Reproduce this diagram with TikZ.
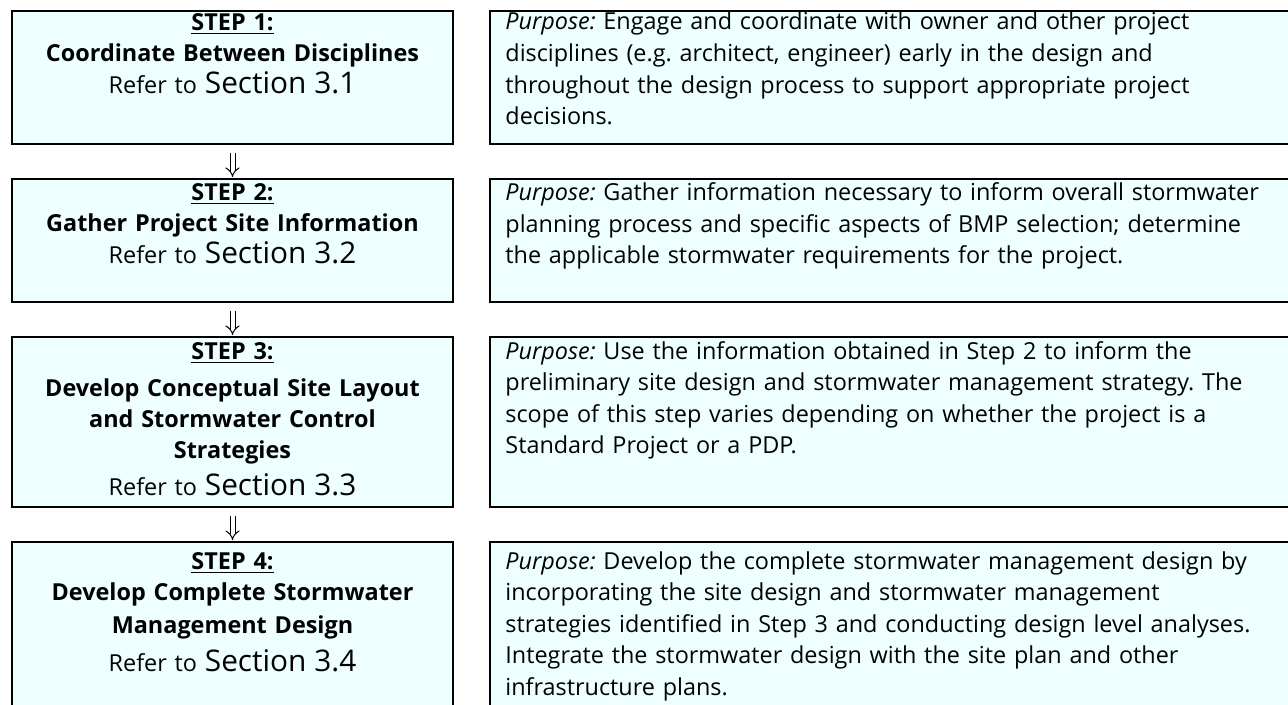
\documentclass[tikz,border=0pt]{standalone}
\usepackage{fontspec}
\setmainfont{Open Sans}
\usetikzlibrary{arrows.meta}
\definecolor{boxfill}{RGB}{238,255,255}
\newcommand{\secbig}[1]{{\fontsize{14.9}{15.6}\selectfont #1}}
\begin{document}
\begin{tikzpicture}[x=0.5pt,y=-0.5pt,
  box/.style={draw=black, line width=1.3pt, fill=boxfill, anchor=north west,
    inner sep=0pt, outer sep=0pt, minimum width=220.5pt},
  rbox/.style={box, minimum width=410pt},
  lefttext/.style={anchor=base, text width=220pt, align=center, inner sep=0pt,
    font=\fontsize{11.7}{15.6}\selectfont\frenchspacing},
  righttext/.style={anchor=base west, text width=395pt, align=left, inner sep=0pt,
    font=\fontsize{11.7}{15.8}\selectfont\frenchspacing},
  flow/.style={double, double distance=2pt, line width=0.5pt, -{Implies},
    shorten <=4.5pt, shorten >=1pt}]
\clip (0,0) rectangle (1288,705);
\fill[white] (0,0) rectangle (1288,705);
% left boxes
\node[box, minimum height=66.5pt] (L1) at (12,11) {};
\node[box, minimum height=61.5pt] (L2) at (12,179) {};
\node[box, minimum height=85pt] (L3) at (12,337) {};
\node[box, minimum height=90pt] (L4) at (12,542) {};
% right boxes
\node[rbox, minimum height=66.5pt] (R1) at (490,11) {};
\node[rbox, minimum height=61.5pt] (R2) at (490,179) {};
\node[rbox, minimum height=85pt] (R3) at (490,337) {};
\node[rbox, minimum height=90pt] (R4) at (490,542) {};
% connectors
\draw[flow] (L1.south) -- (L2.north);
\draw[flow] (L2.south) -- (L3.north);
\draw[flow] (L3.south) -- (L4.north);
% left texts
\node[lefttext] (T1) at (232.5,30.7) {\textbf{\underline{STEP 1:}}\\
  \textbf{Coordinate Between Disciplines}\\
  Refer to \secbig{Section 3.1}};
\node[lefttext] (T2) at (232.5,200.7) {\textbf{\underline{STEP 2:}}\\
  \textbf{Gather Project Site Information}\\
  Refer to \secbig{Section 3.2}};
\node[lefttext] (T3) at (232.5,359) {\textbf{\underline{STEP 3:}}\\[2.9pt]
  \textbf{Develop Conceptual Site Layout}\\
  \textbf{and Stormwater Control}\\
  \textbf{Strategies}\\[2.9pt]
  Refer to \secbig{Section 3.3}};
\node[lefttext] (T4) at (232.5,569) {\textbf{\underline{STEP 4:}}\\
  \textbf{Develop Complete Stormwater}\\[0.8pt]
  \textbf{Management Design}\\[3.8pt]
  Refer to \secbig{Section 3.4}};
% right texts
\node[righttext] (P1) at (505,30) {\textit{Purpose:} Engage and coordinate with owner and other project\\
  disciplines (e.g. architect, engineer) early in the design and\\
  throughout the design process to support appropriate project\\
  decisions.};
\node[righttext] (P2) at (505,200.7) {\textit{Purpose:} Gather information necessary to inform overall stormwater\\
  planning process and specific aspects of BMP selection; determine\\
  the applicable stormwater requirements for the project.};
\node[righttext] (P3) at (505,359) {\textit{Purpose:} Use the information obtained in Step 2 to inform the\\
  preliminary site design and stormwater management strategy. The\\
  scope of this step varies depending on whether the project is a\\
  Standard Project or a PDP.};
\node[righttext] (P4) at (505,569) {\textit{Purpose:} Develop the complete stormwater management design by\\
  incorporating the site design and stormwater management\\
  strategies identified in Step 3 and conducting design level analyses.\\
  Integrate the stormwater design with the site plan and other\\
  infrastructure plans.};
\end{tikzpicture}
\end{document}
